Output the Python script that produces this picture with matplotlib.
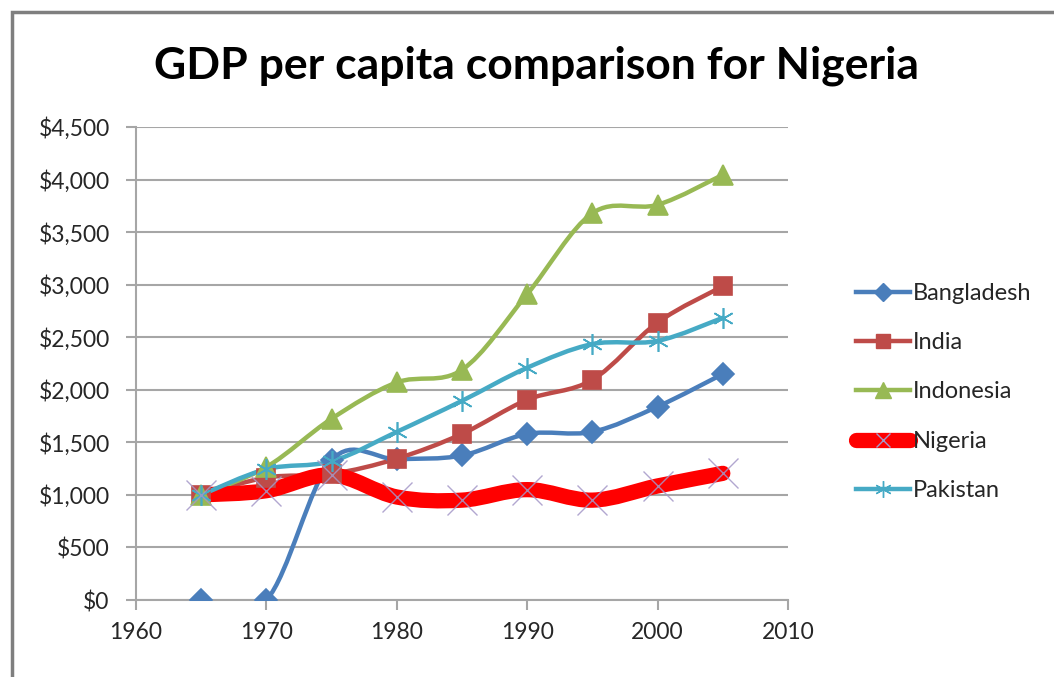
import numpy as np
import matplotlib
matplotlib.use("Agg")
import matplotlib.pyplot as plt
from matplotlib.path import Path
from matplotlib.patches import PathPatch, Rectangle
from matplotlib.lines import Line2D
from matplotlib.ticker import FuncFormatter

plt.rcParams['font.family'] = ['Lato', 'DejaVu Sans']

# Data
years = [1965, 1970, 1975, 1980, 1985, 1990, 1995, 2000, 2005]
bangladesh = [0, 0, 1330, 1340, 1375, 1580, 1600, 1840, 2150]
india = [1000, 1165, 1200, 1345, 1580, 1905, 2095, 2640, 2985]
indonesia = [1000, 1265, 1725, 2070, 2190, 2910, 3680, 3760, 4045]
nigeria = [1000, 1040, 1190, 980, 950, 1050, 950, 1085, 1205]
pakistan = [1000, 1245, 1320, 1600, 1895, 2210, 2435, 2465, 2685]

series = [
    # name, values, colour, marker, marker size, line width
    ("Bangladesh", bangladesh, "#4A7EBB", "D", 11, 3.2),
    ("India", india, "#BE4B48", "s", 13, 3.2),
    ("Indonesia", indonesia, "#98B954", "^", 14, 3.2),
    ("Nigeria", nigeria, "#FF0000", "x", 22, 11),
    ("Pakistan", pakistan, "#46AAC5", (6, 2, 0), 15, 3.2),
]


def smooth_path(x, y):
    # Excel-style smoothed line: Bezier segments with Catmull-Rom control points
    n = len(x)
    verts = [(x[0], y[0])]
    codes = [Path.MOVETO]
    for i in range(n - 1):
        a = i - 1 if i > 0 else i
        d = i + 2 if i + 2 < n else i + 1
        c1 = (x[i] + (x[i + 1] - x[a]) / 6, y[i] + (y[i + 1] - y[a]) / 6)
        c2 = (x[i + 1] - (x[d] - x[i]) / 6, y[i + 1] - (y[d] - y[i]) / 6)
        verts += [c1, c2, (x[i + 1], y[i + 1])]
        codes += [Path.CURVE4] * 3
    return Path(verts, codes)


fig = plt.figure(figsize=(10.54, 6.77), dpi=100)
ax = fig.add_axes([136 / 1054, 1 - 600 / 677, (788 - 136) / 1054, (600 - 127) / 677])

# outer chart border (cropped screenshot)
fig.patches.append(Rectangle((12 / 1054, -0.1), 1.2, 1 - 12 / 677 + 0.1,
                             transform=fig.transFigure, fill=False,
                             edgecolor="#7F7F7F", linewidth=2.5))

handles = []
for name, vals, col, mk, ms, lw in series:
    patch = PathPatch(smooth_path(years, vals), facecolor="none", edgecolor=col,
                      linewidth=lw, capstyle="round", joinstyle="round", zorder=2)
    ax.add_patch(patch)
    if name == "Nigeria":
        ax.plot(years, vals, linestyle="none", marker=mk, markersize=ms,
                markeredgecolor="#A598C8", markeredgewidth=1.0, alpha=0.85, zorder=4)
        h = Line2D([], [], color=col, linewidth=lw, solid_capstyle="round",
                   marker=mk, markersize=10, markeredgecolor="#A598C8", markeredgewidth=1.0)
    else:
        ax.plot(years, vals, linestyle="none", marker=mk, markersize=ms,
                markerfacecolor=col, markeredgecolor=col, markeredgewidth=1.2, zorder=3)
        h = Line2D([], [], color=col, linewidth=lw, marker=mk,
                   markersize=ms * 0.8, markerfacecolor=col, markeredgecolor=col)
    handles.append(h)

ax.set_xlim(1960, 2010)
ax.set_ylim(0, 4500)
ax.set_xticks(range(1960, 2011, 10))
ax.set_yticks(range(0, 4501, 500))
ax.yaxis.set_major_formatter(FuncFormatter(lambda v, p: "${:,.0f}".format(v)))
ax.grid(axis="y", color="#A6A6A6", linewidth=1.5, zorder=0)
ax.set_axisbelow(True)
for s in ["top", "right"]:
    ax.spines[s].set_visible(False)
for s in ["bottom", "left"]:
    ax.spines[s].set_color("#A6A6A6")
    ax.spines[s].set_linewidth(1.5)
ax.tick_params(axis="both", direction="out", length=7, width=1.5, color="#A6A6A6",
               labelsize=16.5, labelcolor="#262626")
ax.tick_params(axis="x", pad=9)
ax.tick_params(axis="y", pad=12)

fig.text(537 / 1054, 1 - 66 / 677, "GDP per capita comparison for Nigeria",
         ha="center", va="center", fontsize=32, fontweight="bold", color="black")

fig.legend(handles=handles, labels=[s[0] for s in series],
           loc="center left", bbox_to_anchor=(856 / 1054, 1 - 392 / 677),
           frameon=False, fontsize=17, handlelength=2.3, handletextpad=0.1,
           labelspacing=1.2, borderpad=0, borderaxespad=0, labelcolor="#262626")

fig.savefig("out.png", dpi=100)
